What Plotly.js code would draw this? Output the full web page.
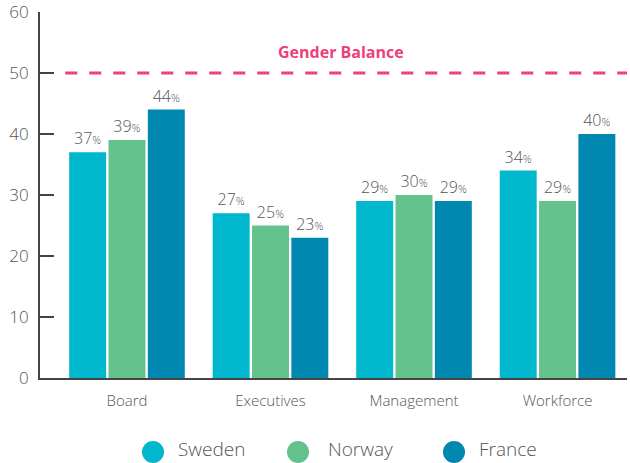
<!DOCTYPE html>
<html>
<head>
<meta charset="utf-8">
<script src="https://cdn.plot.ly/plotly-3.0.1.min.js"></script>
<style>html,body{margin:0;padding:0;background:#fff;}#chart{width:630px;height:463px;}</style>
</head>
<body>
<div id="chart"></div>
<script>
const categories = ["Board", "Executives", "Management", "Workforce"];
const seriesNames = ["Sweden", "Norway", "France"];
const sweden = [37, 27, 29, 34];
const norway = [39, 25, 30, 29];
const france = [44, 23, 29, 40];
const balanceLevel = 50;
const balanceLabel = "Gender Balance";
const yTicks = [0, 10, 20, 30, 40, 50, 60];

const colors = ["#00b7cd", "#64c28d", "#0088b1"];
const FONT = "'Open Sans', Lato, sans-serif";
const series = [sweden, norway, france];

const traces = series.map((vals, i) => ({
  type: "bar",
  x: categories,
  y: vals,
  name: seriesNames[i],
  marker: {color: colors[i]},
  text: vals.map(v => v + "<span style='font-size:11px'>%</span>"),
  textposition: "outside",
  textfont: {size: 16, color: "#555", family: FONT, weight: 300},
  cliponaxis: false,
  showlegend: false,
  hoverinfo: "x+y"
}));

// custom legend (large circles) placed in paper coordinates
const plotLeft = 40, plotW = 587, plotBottom = 378, plotH = 366;
const px2x = p => (p - plotLeft) / plotW;
const py2y = p => (plotBottom - p) / plotH;
const legendCircleX = [153, 298, 454];
const legendTextX = [178, 328, 479];
const legendY = 452;
const r = 11;

const shapes = [{
  type: "line", xref: "paper", yref: "y",
  x0: 0.043, x1: 1, y0: balanceLevel, y1: balanceLevel,
  line: {color: "#ee3f78", width: 3, dash: "12px,12px"}
}];
const annotations = [{
  xref: "paper", yref: "y", x: 0.513, y: balanceLevel + 3.5,
  text: "<b>" + balanceLabel + "</b>", showarrow: false,
  font: {size: 16, color: "#ee3f78", family: FONT}
}];
seriesNames.forEach((nm, i) => {
  shapes.push({
    type: "circle", xref: "paper", yref: "paper",
    x0: px2x(legendCircleX[i] - r), x1: px2x(legendCircleX[i] + r),
    y0: py2y(legendY + r), y1: py2y(legendY - r),
    fillcolor: colors[i], line: {width: 0}
  });
  annotations.push({
    xref: "paper", yref: "paper", x: px2x(legendTextX[i] - 2), y: py2y(legendY - 3),
    xanchor: "left", yanchor: "middle", showarrow: false,
    align: "left",
    text: nm, font: {size: 19, color: "#555", family: FONT, weight: 300}
  });
});

const layout = {
  width: 630, height: 463,
  margin: {l: 40, r: 3, t: 12, b: 85},
  paper_bgcolor: "#fff", plot_bgcolor: "#fff",
  font: {family: FONT, color: "#555", weight: 300},
  barmode: "group",
  bargap: 0.178,
  bargroupgap: 0.06,
  showlegend: false,
  xaxis: {
    type: "category",
    range: [-0.606, 3.484],
    showline: true, linecolor: "#444", linewidth: 2,
    showgrid: false, zeroline: false, ticks: "",
    ticklabelstandoff: 8,
    tickfont: {size: 15, color: "#555", weight: 300}
  },
  yaxis: {
    range: [0, 60],
    tickvals: yTicks,
    ticklabeloverflow: "allow",
    ticklabelstandoff: 6,
    showline: true, linecolor: "#444", linewidth: 2,
    showgrid: false, zeroline: false,
    ticks: "inside", ticklen: 14, tickwidth: 1.5, tickcolor: "#444",
    tickfont: {size: 17, color: "#555", weight: 300}
  },
  shapes: shapes,
  annotations: annotations
};

Plotly.newPlot("chart", traces, layout, {displayModeBar: false, staticPlot: true});
</script>
</body>
</html>
